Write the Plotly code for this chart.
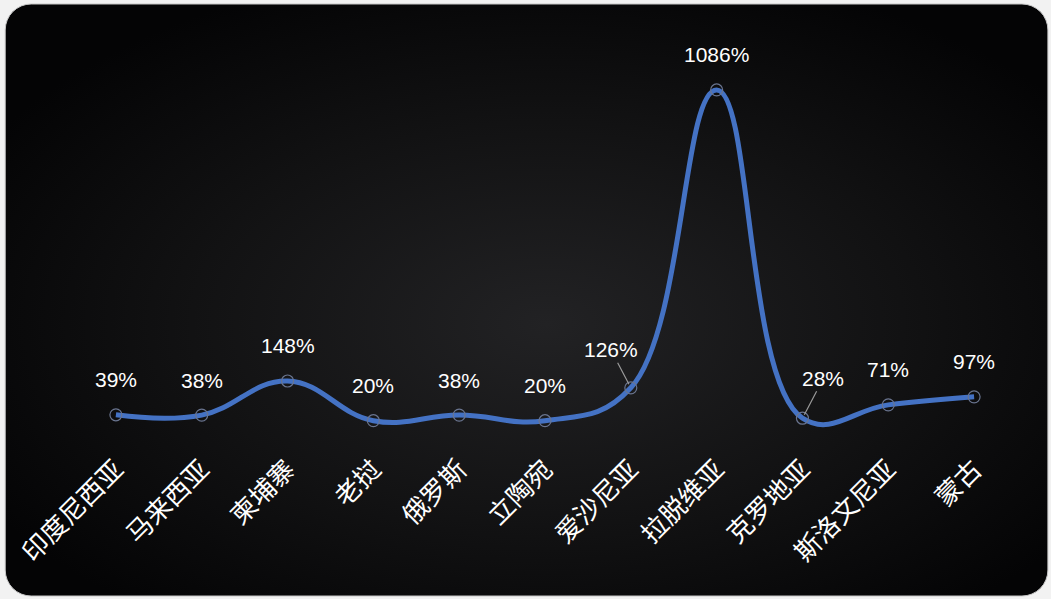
import plotly.graph_objects as go
import base64

categories = ["印度尼西亚", "马来西亚", "柬埔寨", "老挝", "俄罗斯", "立陶宛",
              "爱沙尼亚", "拉脱维亚", "克罗地亚", "斯洛文尼亚", "蒙古"]
values = [39, 38, 148, 20, 38, 20, 126, 1086, 28, 71, 97]
labels = ["39%", "38%", "148%", "20%", "38%", "20%", "126%", "1086%", "28%", "71%", "97%"]

W, H = 1051, 599

svg = f'''<svg xmlns="http://www.w3.org/2000/svg" width="{W}" height="{H}" viewBox="0 0 {W} {H}">
<defs>
<radialGradient id="g" cx="0.52" cy="0.54" r="0.62" gradientUnits="objectBoundingBox">
<stop offset="0" stop-color="#222224"/>
<stop offset="0.55" stop-color="#121213"/>
<stop offset="1" stop-color="#040405"/>
</radialGradient>
</defs>
<rect x="0" y="0" width="{W}" height="{H}" fill="#f2f2f2"/>
<rect x="2" y="4" width="{W-5}" height="{H-7}" rx="26" ry="26" fill="url(#g)" stroke="#c8c8c8" stroke-width="1"/>
</svg>'''
bg_uri = "data:image/svg+xml;base64," + base64.b64encode(svg.encode()).decode()

fig = go.Figure()
fig.add_trace(go.Scatter(
    x=categories, y=values, mode="lines+markers",
    line=dict(color="#4472c4", width=5, shape="spline", smoothing=1.2),
    marker=dict(symbol="circle-open", size=12, color="#6a7590", line=dict(width=1.2)),
    hoverinfo="skip",
))

# label offsets (pixels) for labels with leader lines
leader = {6: (-20, -38), 8: (21, -40)}
for i, (c, v, t) in enumerate(zip(categories, values, labels)):
    if i in leader:
        ax, ay = leader[i]
        fig.add_annotation(x=c, y=v, text=t, showarrow=True, ax=ax, ay=ay,
                           arrowhead=0, arrowwidth=1.2, arrowcolor="#9a9a9a",
                           standoff=4, font=dict(size=21, color="white"))
    else:
        fig.add_annotation(x=c, y=v, text=t, showarrow=False, yshift=35,
                           font=dict(size=21, color="white"))

fig.update_layout(
    width=W, height=H,
    paper_bgcolor="#f2f2f2", plot_bgcolor="rgba(0,0,0,0)",
    margin=dict(l=70, r=34, t=40, b=151),
    showlegend=False,
    font=dict(family="Liberation Sans, Noto Sans CJK SC, sans-serif", color="white"),
    images=[dict(source=bg_uri, xref="paper", yref="paper", x=-70/947, y=1+40/408,
                 sizex=W/947, sizey=H/408, sizing="stretch", layer="below",
                 xanchor="left", yanchor="top")],
    xaxis=dict(type="category", range=[-0.5, 10.5], showgrid=False, zeroline=False,
               showline=False, ticks="", tickangle=-45,
               tickfont=dict(size=26, color="white", family="Noto Sans CJK SC, sans-serif")),
    yaxis=dict(range=[-68, 1247], showgrid=False, zeroline=False, showline=False,
               showticklabels=False, ticks=""),
)

fig.write_html("out.html", config={"displayModeBar": False},
               post_script="document.body.style.margin='0';document.body.style.overflow='hidden';")
